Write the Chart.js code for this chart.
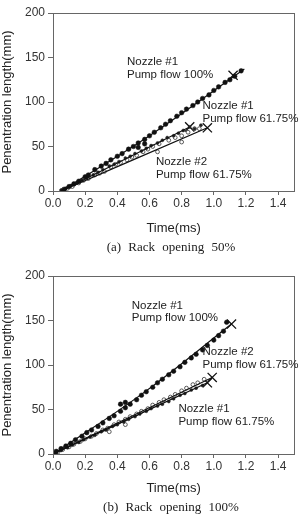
<!DOCTYPE html>
<html>
<head>
<meta charset="utf-8">
<script src="https://cdn.jsdelivr.net/npm/chart.js@4.4.0/dist/chart.umd.min.js"></script>
<style>
  body { margin: 0; background: #fff; width: 302px; height: 516px; position: relative; overflow: hidden; }
  .box { position: absolute; left: 0; width: 302px; }
  .cap { position: absolute; left: 0; width: 302px; padding-left: 40px; box-sizing: border-box; text-align: center;
         font-family: "Liberation Serif", serif; font-size: 13px; word-spacing: 4px; color: #222; }
</style>
</head>
<body>
<div class="box" style="top:0;height:240px"><canvas id="chartA"></canvas></div>
<div class="cap" style="top:239px">(a) Rack opening 50%</div>
<div class="box" style="top:260px;height:240px"><canvas id="chartB"></canvas></div>
<div class="cap" style="top:499px">(b) Rack opening 100%</div>
<script>
var xTicks = [0.0, 0.2, 0.4, 0.6, 0.8, 1.0, 1.2, 1.4];
var yTicks = [0, 50, 100, 150, 200];

// (a) rack opening 50%
var a_n1full_t = [0.07,0.10,0.13,0.16,0.20,0.22,0.26,0.30,0.33,0.36,0.40,0.43,0.47,0.50,0.53,0.53,0.57,0.57,0.60,0.63,0.67,0.70,0.73,0.77,0.80,0.83,0.87,0.90,0.93,0.97,1.00,1.03,1.07,1.10,1.13,1.17];
var a_n1full_len = [2,5,8,11,16,18,24,28,31,35,39,42,47,50,54,49,58,53,62,66,71,75,79,84,88,92,96,100,104,108,113,117,122,125,129,135];
var a_n1part_t = [0.05,0.08,0.11,0.15,0.18,0.21,0.25,0.28,0.31,0.35,0.38,0.41,0.45,0.48,0.51,0.55,0.58,0.61,0.65,0.68,0.71,0.75,0.78,0.81,0.85,0.88,0.92];
var a_n1part_len = [1,3,6,9,12,15,18,21,24,28,30,33,37,39,42,45,48,51,54,57,60,62,65,68,72,70,74];
var a_n2part_t = [0.06,0.09,0.12,0.16,0.19,0.22,0.26,0.29,0.32,0.36,0.39,0.42,0.46,0.49,0.52,0.56,0.59,0.62,0.65,0.66,0.72,0.76,0.80,0.80,0.84,0.88,0.91];
var a_n2part_len = [1,3,5,9,12,14,18,20,22,27,30,32,35,38,40,44,47,50,44,53,57,60,55,62,66,70,70];
var a_fit_n1full = [[0.05,0],[0.6,62],[1.19,137]];
var a_fit_n1part = [[0.05,0],[0.96,71]];
var a_fit_n2part = [[0.05,0],[0.85,72]];
var a_ends = [[1.12,130],[0.96,71],[0.85,72]];

// (b) rack opening 100%
var b_n1full_t = [0.02,0.05,0.08,0.11,0.14,0.18,0.21,0.24,0.28,0.31,0.35,0.38,0.42,0.42,0.45,0.45,0.48,0.52,0.55,0.58,0.62,0.65,0.68,0.72,0.75,0.79,0.82,0.86,0.89,0.93,0.96,1.00,1.03,1.06,1.08];
var b_n1full_len = [3,6,9,12,16,20,24,27,31,35,40,43,48,56,52,58,56,61,66,70,75,80,84,89,93,98,103,108,112,117,122,128,133,138,148];
var b_n1part_t = [0.02,0.05,0.09,0.12,0.16,0.19,0.23,0.26,0.30,0.33,0.37,0.40,0.44,0.47,0.51,0.54,0.58,0.61,0.65,0.68,0.72,0.75,0.79,0.82,0.86,0.89,0.93];
var b_n1part_len = [1,4,7,10,13,16,19,21,25,27,31,33,36,39,42,45,48,51,54,56,59,62,66,68,72,74,77];
var b_n2part_t = [0.03,0.06,0.10,0.13,0.17,0.20,0.24,0.27,0.31,0.34,0.35,0.38,0.41,0.45,0.45,0.48,0.52,0.55,0.59,0.62,0.66,0.69,0.73,0.76,0.80,0.83,0.87,0.90,0.94];
var b_n2part_len = [2,5,8,11,14,17,20,23,27,29,25,33,36,39,33,42,45,48,51,55,58,61,64,67,71,74,78,80,84];
var b_fit_n1full = [[0.0,0],[0.55,67],[1.11,146]];
var b_fit_n1part = [[0.0,0],[0.96,80]];
var b_fit_n2part = [[0.0,0],[0.99,86]];
var b_ends = [[1.11,146],[0.96,80],[0.99,86]];

// annotation text, anchored in data units (left edge, first line)
var a_notes = [
  { t: 0.46, len: 145, lines: ['Nozzle #1', 'Pump flow 100%'] },
  { t: 0.93, len: 95.5, lines: ['Nozzle #1', 'Pump flow 61.75%'] },
  { t: 0.64, len: 32.6, lines: ['Nozzle #2', 'Pump flow 61.75%'] }
];
var b_notes = [
  { t: 0.49, len: 167, lines: ['Nozzle #1', 'Pump flow 100%'] },
  { t: 0.93, len: 114.6, lines: ['Nozzle #2', 'Pump flow 61.75%'] },
  { t: 0.78, len: 50.6, lines: ['Nozzle #1', 'Pump flow 61.75%'] }
];

function pts(ts, ls) { return ts.map(function (t, i) { return { x: t, y: ls[i] }; }); }
function pairs(p) { return p.map(function (q) { return { x: q[0], y: q[1] }; }); }

var frameAndNotes = {
  id: 'frameAndNotes',
  afterDatasetsDraw: function (chart) {
    var ctx = chart.ctx, a = chart.chartArea;
    var xs = chart.scales.x, ys = chart.scales.y;
    ctx.save();
    ctx.strokeStyle = '#666';
    ctx.lineWidth = 1;
    ctx.strokeRect(Math.round(a.left) + 0.5, Math.round(a.top) + 0.5, Math.round(a.right - a.left), Math.round(a.bottom - a.top));
    ctx.fillStyle = '#222';
    ctx.font = '11.5px "Liberation Sans", Arial, sans-serif';
    ctx.textAlign = 'left';
    ctx.textBaseline = 'middle';
    chart.options.plugins.frameAndNotes.notes.forEach(function (n) {
      var px = xs.getPixelForValue(n.t), py = ys.getPixelForValue(n.len);
      n.lines.forEach(function (s, i) { ctx.fillText(s, px, py + i * 12.5); });
    });
    ctx.restore();
  }
};

function makeChart(id, d, topPad, axisH) {
  var ctx = document.getElementById(id).getContext('2d');
  var fitStyle = { type: 'line', showLine: true, pointRadius: 0, borderColor: '#111', borderWidth: 1.2, fill: false, tension: 0.4 };
  return new Chart(ctx, {
    type: 'scatter',
    data: {
      datasets: [
        Object.assign({ data: pairs(d.fit1) }, fitStyle),
        Object.assign({ data: pairs(d.fit2) }, fitStyle),
        Object.assign({ data: pairs(d.fit3) }, fitStyle),
        { data: pts(d.t1, d.l1), pointRadius: 2.3, backgroundColor: '#111', borderColor: '#111', borderWidth: 0.5 },
        { data: pts(d.t2, d.l2), pointRadius: 1.5, backgroundColor: '#222', borderColor: '#222', borderWidth: 0.5 },
        { data: pts(d.t3, d.l3), pointRadius: 1.9, backgroundColor: '#fff', borderColor: '#333', borderWidth: 0.8 },
        { data: pairs(d.ends), pointStyle: 'crossRot', pointRadius: 6.5, borderColor: '#111', borderWidth: 1.3 }
      ]
    },
    options: {
      responsive: true,
      maintainAspectRatio: false,
      animation: false,
      layout: { padding: { top: topPad, right: 4, bottom: 0, left: 0 } },
      plugins: {
        legend: { display: false },
        tooltip: { enabled: false },
        frameAndNotes: { notes: d.notes }
      },
      scales: {
        x: {
          type: 'linear', min: 0, max: 1.5,
          afterBuildTicks: function (s) { s.ticks = xTicks.map(function (v) { return { value: v }; }); },
          afterFit: function (s) { s.height = axisH; },
          grid: { drawOnChartArea: false, drawTicks: true, tickLength: 4, color: '#666' },
          border: { color: '#666' },
          ticks: { padding: 1, color: '#333', font: { family: '"Liberation Sans", Arial, sans-serif', size: 12 },
                   maxRotation: 0, callback: function (v) { return Number(v).toFixed(1); } },
          title: { display: true, text: 'Time(ms)', color: '#222', padding: { top: 0, bottom: 4 },
                   font: { family: '"Liberation Sans", Arial, sans-serif', size: 13 } }
        },
        y: {
          type: 'linear', min: 0, max: 200,
          afterBuildTicks: function (s) { s.ticks = yTicks.map(function (v) { return { value: v }; }); },
          afterFit: function (s) { s.width = 53; },
          grid: { drawOnChartArea: false, drawTicks: true, tickLength: 5, color: '#666' },
          border: { color: '#666' },
          ticks: { padding: 3, color: '#333', font: { family: '"Liberation Sans", Arial, sans-serif', size: 12 } },
          title: { display: true, text: 'Penentration length(mm)', color: '#222', padding: { top: 0, bottom: 0 },
                   font: { family: '"Liberation Sans", Arial, sans-serif', size: 13 } }
        }
      }
    },
    plugins: [frameAndNotes]
  });
}

makeChart('chartA', {
  t1: a_n1full_t, l1: a_n1full_len, t2: a_n1part_t, l2: a_n1part_len, t3: a_n2part_t, l3: a_n2part_len,
  fit1: a_fit_n1full, fit2: a_fit_n1part, fit3: a_fit_n2part, ends: a_ends, notes: a_notes
}, 13, 49);

makeChart('chartB', {
  t1: b_n1full_t, l1: b_n1full_len, t2: b_n1part_t, l2: b_n1part_len, t3: b_n2part_t, l3: b_n2part_len,
  fit1: b_fit_n1full, fit2: b_fit_n1part, fit3: b_fit_n2part, ends: b_ends, notes: b_notes
}, 16, 46);
</script>
</body>
</html>
